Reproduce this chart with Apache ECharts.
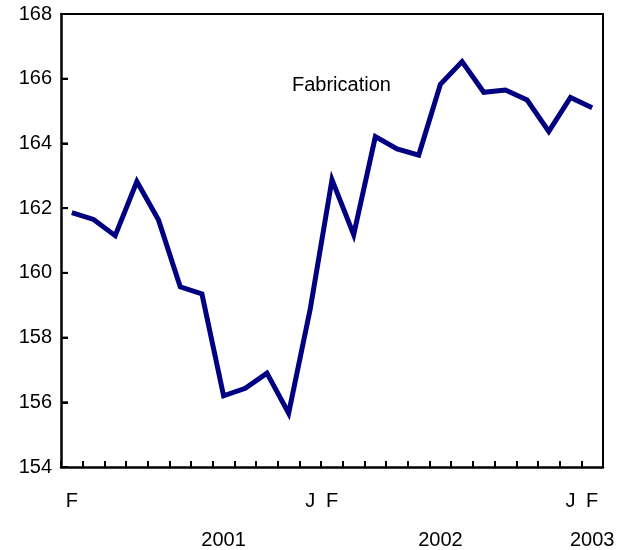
<!DOCTYPE html>
<html>
<head>
<meta charset="UTF-8">
<title>Fabrication</title>
<script src="https://cdn.jsdelivr.net/npm/echarts@6/dist/echarts.min.js"></script>
<style>
  html, body { margin: 0; padding: 0; background: #fff; }
  #chart { width: 624px; height: 550px; }
</style>
</head>
<body>
<div id="chart"></div>
<script>
// months Feb 2001 .. Feb 2003
var months = ['F','M','A','M','J','J','A','S','O','N','D',
              'J','F','M','A','M','J','J','A','S','O','N','D',
              'J','F'];
// which month letters are shown under the axis
var monthLabels = ['F','','','','','','','','','','',
                   'J','F','','','','','','','','','','',
                   'J','F'];
var yearLabels = ['','','','','','','','2001','','','',
                  '','','','','','','2002','','','','','',
                  '','2003'];
var yTicks = [156, 158, 160, 162, 164, 166];
var fabrication = [161.86, 161.65, 161.15, 162.82, 161.63, 159.57, 159.35, 156.2, 156.43, 156.9, 155.66,
                   158.9, 162.88, 161.18, 164.21, 163.83, 163.64, 165.83, 166.53, 165.58, 165.65, 165.34, 164.37,
                   165.42, 165.1];

var font = 'Liberation Sans, Arial, sans-serif';
var gridLeft = 61;
var chart = echarts.init(document.getElementById('chart'), null, {renderer: 'canvas'});

var option = {
  animation: false,
  backgroundColor: '#fff',
  title: {
    text: 'Fabrication',
    left: 287,
    top: 70,
    textStyle: {fontFamily: font, fontSize: 20, fontWeight: 'normal', color: '#000'}
  },
  grid: {left: gridLeft, right: 21, top: 14, bottom: 83},
  xAxis: [
    {
      type: 'category',
      data: months,
      boundaryGap: true,
      position: 'bottom',
      axisLine: {show: true, lineStyle: {color: '#000', width: 2.5}},
      axisTick: {show: true, inside: true, interval: 0, length: 6, lineStyle: {color: '#000', width: 2}},
      axisLabel: {
        interval: 0, margin: 24, color: '#000', fontFamily: font, fontSize: 20,
        formatter: function (v, i) { return monthLabels[i]; }
      }
    },
    {
      type: 'category',
      data: months,
      boundaryGap: true,
      position: 'bottom',
      offset: 39,
      axisLine: {show: false},
      axisTick: {show: false},
      axisLabel: {
        interval: 0, margin: 24, color: '#000', fontFamily: font, fontSize: 20,
        formatter: function (v, i) { return yearLabels[i]; }
      }
    },
    {
      // top edge of the frame
      type: 'category',
      data: months,
      position: 'top',
      axisLine: {show: true, lineStyle: {color: '#000', width: 2}},
      axisTick: {show: false},
      axisLabel: {show: false}
    }
  ],
  yAxis: [
    {
      type: 'value',
      min: 154, max: 168, interval: 2,
      position: 'left',
      axisLine: {show: true, lineStyle: {color: '#000', width: 2.5}},
      axisTick: {show: true, inside: true, length: 7, lineStyle: {color: '#000', width: 2}},
      splitLine: {show: false},
      axisLabel: {margin: 9, color: '#000', fontFamily: font, fontSize: 20}
    },
    {
      // right edge of the frame
      type: 'value',
      min: 154, max: 168, interval: 2,
      position: 'right',
      axisLine: {show: true, lineStyle: {color: '#000', width: 2}},
      axisTick: {show: false},
      axisLabel: {show: false},
      splitLine: {show: false}
    }
  ],
  series: [{
    type: 'line',
    yAxisIndex: 0,
    data: fabrication,
    symbol: 'none',
    lineStyle: {color: '#000080', width: 5, join: 'miter'}
  }]
};
chart.setOption(option);

// inward tick marks on the y axis, placed with the axis scale
var ticks = yTicks.map(function (v) {
  var y = chart.convertToPixel({yAxisIndex: 0}, v);
  return {
    type: 'line',
    shape: {x1: gridLeft, y1: y, x2: gridLeft + 7, y2: y},
    style: {stroke: '#000', lineWidth: 2},
    z: 10
  };
});
chart.setOption({graphic: ticks});
</script>
</body>
</html>
